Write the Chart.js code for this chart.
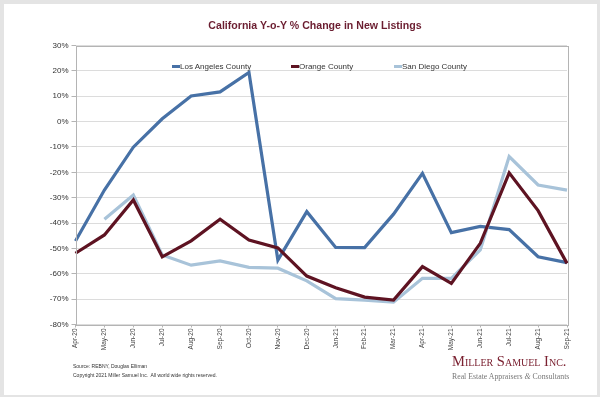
<!DOCTYPE html>
<html>
<head>
<meta charset="utf-8">
<script src="https://cdn.jsdelivr.net/npm/chart.js@4"></script>
<style>
	html, body { margin: 0; padding: 0; }
	body { width: 600px; height: 397px; background: #e4e4e4; position: relative; overflow: hidden; font-family: "Liberation Sans", Arial, sans-serif; }
	.card { position: absolute; left: 4px; top: 4px; right: 3px; bottom: 2px; background: #fff; }
	.wrap { position: absolute; left: 0; top: 0; width: 600px; height: 397px; }
	.title { position: absolute; left: 0; top: 19px; width: 630px; text-align: center; font-size: 10.6px; font-weight: bold; color: #6b1d30; line-height: 13px; white-space: nowrap; }
	.legend { position: absolute; top: 62px; left: 0; height: 10px; font-size: 8px; color: #333; }
	.legend .item { position: absolute; white-space: nowrap; line-height: 10px; }
	.legend .mark { display: inline-block; width: 8px; height: 3px; vertical-align: middle; margin-top: -1px; }
	.footer { position: absolute; left: 73px; top: 362px; font-size: 5px; color: #333; line-height: 9px; }
	.logo { position: absolute; left: 452px; top: 353px; font-family: "Liberation Serif", "Times New Roman", serif; }
	.logo .name { font-size: 14.5px; color: #7b2131; font-variant: small-caps; line-height: 17px; white-space: nowrap; }
	.logo .sub { font-size: 7.8px; color: #777; line-height: 10px; margin-top: 2px; white-space: nowrap; }
</style>
</head>
<body>
<div class="card"></div>
<div class="wrap"><canvas id="chart" width="600" height="397"></canvas></div>
<div class="title">California Y-o-Y % Change in New Listings</div>
<div class="legend" id="legend"></div>
<div class="footer">Source: REBNY, Douglas Elliman<br>Copyright 2021 Miller Samuel Inc.&nbsp; All world wide rights reserved.</div>
<div class="logo">
	<div class="name">Miller Samuel Inc.</div>
	<div class="sub">Real Estate Appraisers <i>&amp;</i> Consultants</div>
</div>
<script>
const months = ['Apr-20', 'May-20', 'Jun-20', 'Jul-20', 'Aug-20', 'Sep-20', 'Oct-20', 'Nov-20', 'Dec-20',
	'Jan-21', 'Feb-21', 'Mar-21', 'Apr-21', 'May-21', 'Jun-21', 'Jul-21', 'Aug-21', 'Sep-21'];

const seriesNames = ['Los Angeles County', 'Orange County', 'San Diego County'];
const seriesColors = ['#4771a6', '#5e1322', '#a8c3d9'];

const losAngeles = [-47.1, -27, -10.1, 1.1, 10.1, 11.7, 19.4, -54.6, -35.5, -49.6, -49.7, -36.5, -20.4, -43.8, -41.3, -42.6, -53.3, -55.6];
const orange = [-51.9, -44.7, -30.9, -53.3, -47.0, -38.5, -46.7, -49.8, -60.9, -65.5, -69.2, -70.4, -57.2, -63.8, -48.0, -20.2, -35.1, -55.9];
const sanDiego = [null, -38.5, -29.0, -52.6, -56.6, -54.9, -57.5, -57.8, -62.8, -69.8, -70.4, -71.2, -61.8, -61.8, -50.6, -13.8, -25.0, -27.0];

const yTicks = { min: -80, max: 30, step: 10 };

const plotBorder = {
	id: 'plotBorder',
	afterDraw(chart) {
		const { ctx, chartArea: a } = chart;
		ctx.save();
		ctx.strokeStyle = '#b4b4b4';
		ctx.lineWidth = 1;
		ctx.strokeRect(Math.round(a.left) + 0.5, Math.round(a.top) + 0.5, Math.round(a.right - a.left), Math.round(a.bottom - a.top));
		ctx.restore();
	}
};

const ctx = document.getElementById('chart').getContext('2d');
const allSeries = [losAngeles, orange, sanDiego];

let chart = new Chart(ctx, {
	type: 'line',
	data: {
		labels: months,
		datasets: allSeries.map((values, i) => ({
			label: seriesNames[i],
			data: values,
			borderColor: seriesColors[i],
			backgroundColor: seriesColors[i],
			borderWidth: 3.2,
			pointRadius: 0,
			tension: 0,
			spanGaps: false,
			order: i === 0 ? 3 : (i === 1 ? 1 : 2)
		}))
	},
	options: {
		responsive: false,
		animation: false,
		layout: { padding: { left: 0, right: 33, top: 45.5, bottom: 0 } },
		plugins: {
			legend: { display: false },
			tooltip: { enabled: false },
			title: { display: false }
		},
		scales: {
			x: {
				offset: false,
				grid: { display: true, drawOnChartArea: false, drawTicks: true, tickLength: 3, color: '#b4b4b4' },
				border: { display: false },
				ticks: {
					minRotation: 90,
					maxRotation: 90,
					autoSkip: false,
					padding: 1,
					color: '#444',
					font: { family: '"Liberation Sans", Arial, sans-serif', size: 6.5 }
				},
				afterFit(scale) { scale.height = 72.5; }
			},
			y: {
				min: yTicks.min,
				max: yTicks.max,
				grid: { color: '#dcdcdc', tickLength: 4, drawTicks: true, tickColor: '#b4b4b4' },
				border: { display: false },
				ticks: {
					stepSize: yTicks.step,
					padding: 3,
					color: '#333',
					font: { family: '"Liberation Sans", Arial, sans-serif', size: 8 },
					callback: v => v + '%'
				},
				afterFit(scale) { scale.width = 75.5; }
			}
		}
	},
	plugins: [plotBorder]
});

// legend drawn as html, inside the plot area
const legendX = [172, 291, 394];
const legend = document.getElementById('legend');
chart.data.datasets.forEach((ds, i) => {
	let item = document.createElement('div');
	item.className = 'item';
	item.style.left = legendX[i] + 'px';
	let mark = document.createElement('span');
	mark.className = 'mark';
	mark.style.background = ds.borderColor;
	item.appendChild(mark);
	item.appendChild(document.createTextNode(ds.label));
	legend.appendChild(item);
});
</script>
</body>
</html>
